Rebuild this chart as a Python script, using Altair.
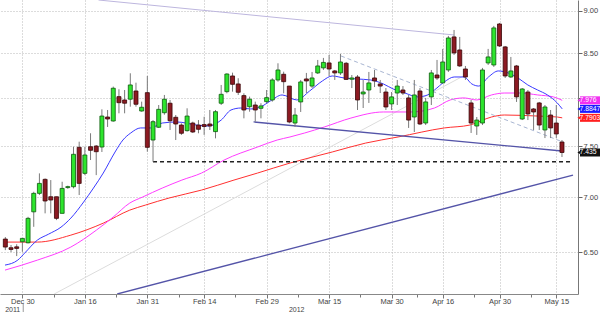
import altair as alt
import pandas as pd

# ---- candles (trading-day index, 0 = Dec 30 2011) ----
day_idx = list(range(-3, 96))
opens = [6.617, 6.540, 6.548, 6.593, 6.584, 6.864, 7.037, 7.171, 7.005, 7.005,
         6.850, 7.092, 7.100, 7.487, 7.229, 7.493, 7.500, 7.490, 7.799, 7.757,
         8.016, 7.980, 7.988, 8.077, 7.862, 8.059, 7.561, 7.692, 7.844, 7.945,
         7.796, 7.715, 7.657, 7.736, 7.715, 7.720, 7.726, 7.647, 7.945, 8.070,
         8.242, 8.154, 8.027, 7.908, 7.926, 7.891, 7.962, 7.980, 8.198, 8.261,
         8.131, 7.736, 7.959, 8.209, 8.131, 8.276, 8.332, 8.388, 8.298, 8.276,
         8.384, 8.206, 8.231, 8.045, 8.088, 8.220, 8.154, 8.066, 7.937, 8.055,
         8.088, 8.002, 7.799, 8.077, 7.736, 8.013, 8.253, 8.165, 8.309, 8.687,
         8.536, 8.320, 7.948, 7.705, 7.736, 8.388, 8.365, 8.840, 8.571, 8.231,
         8.354, 7.778, 8.066, 7.884, 7.948, 7.664, 7.820, 7.736, 7.541]
highs = [6.635, 6.564, 6.571, 6.625, 6.818, 7.052, 7.229, 7.180, 7.164, 7.005,
         7.148, 7.110, 7.493, 7.544, 7.493, 7.630, 7.510, 7.880, 7.873, 8.125,
         8.096, 8.088, 8.272, 8.168, 7.962, 8.242, 7.767, 7.926, 8.034, 7.980,
         7.820, 7.733, 7.891, 7.750, 7.767, 7.802, 7.873, 7.873, 8.143, 8.272,
         8.279, 8.217, 8.052, 8.016, 7.962, 7.945, 8.088, 8.217, 8.384, 8.290,
         8.131, 7.894, 8.198, 8.276, 8.287, 8.422, 8.445, 8.479, 8.309, 8.490,
         8.399, 8.253, 8.253, 8.198, 8.287, 8.309, 8.198, 8.109, 8.066, 8.198,
         8.131, 8.034, 8.198, 8.109, 8.002, 8.309, 8.422, 8.548, 8.699, 8.769,
         8.687, 8.354, 7.980, 7.799, 8.332, 8.548, 8.817, 8.852, 8.582, 8.456,
         8.365, 8.109, 8.088, 7.894, 7.959, 7.926, 7.873, 7.926, 7.561]
lows = [6.519, 6.502, 6.467, 6.504, 6.578, 6.727, 7.021, 6.850, 6.850, 6.788,
        6.850, 7.080, 7.084, 7.021, 7.212, 7.360, 7.212, 7.440, 7.695, 7.750,
        7.838, 7.838, 7.908, 7.908, 7.855, 7.443, 7.343, 7.685, 7.823, 7.664,
        7.561, 7.613, 7.647, 7.633, 7.630, 7.613, 7.664, 7.578, 7.926, 8.052,
        8.070, 8.034, 7.785, 7.855, 7.750, 7.785, 7.945, 7.962, 8.179, 8.052,
        7.733, 7.695, 7.852, 8.055, 8.109, 8.264, 8.309, 8.242, 8.198, 8.253,
        8.198, 8.109, 7.873, 7.894, 7.948, 8.120, 8.055, 7.873, 7.873, 7.926,
        8.034, 7.685, 7.643, 7.715, 7.715, 7.926, 8.198, 8.165, 8.287, 8.479,
        8.343, 8.198, 7.633, 7.613, 7.715, 8.365, 8.343, 8.571, 8.220, 8.220,
        7.959, 7.767, 7.767, 7.664, 7.664, 7.581, 7.581, 7.581, 7.390]
closes = [6.546, 6.525, 6.534, 6.623, 6.804, 7.037, 7.132, 6.965, 6.974, 6.804,
          7.084, 7.101, 7.417, 7.132, 7.410, 7.457, 7.443, 7.809, 7.778, 8.107,
          7.951, 7.945, 8.143, 7.934, 7.902, 7.487, 7.750, 7.880, 7.988, 7.760,
          7.726, 7.630, 7.809, 7.643, 7.671, 7.700, 7.705, 7.855, 8.041, 8.264,
          8.150, 8.063, 7.873, 7.988, 7.873, 7.916, 8.005, 8.198, 8.309, 8.179,
          7.747, 7.820, 8.176, 8.187, 8.220, 8.354, 8.394, 8.320, 8.276, 8.399,
          8.204, 8.220, 7.980, 8.066, 8.165, 8.187, 8.131, 7.905, 8.013, 8.131,
          8.055, 7.767, 8.034, 7.726, 7.959, 8.276, 8.220, 8.399, 8.675, 8.502,
          8.354, 8.231, 7.736, 7.767, 8.309, 8.456, 8.793, 8.582, 8.242, 8.298,
          8.013, 8.099, 7.831, 7.852, 7.715, 7.905, 7.685, 7.623, 7.435]

# ---- moving averages ----
blue_i = [-3.06, -0.81, 0.40, 2.65, 4.62, 6.80, 8.53, 10.78, 12.51, 14.24, 16.32, 17.70,
          19.08, 20.81, 22.54, 24.62, 27.21, 30.67, 32.75, 35.00, 36.73, 38.46, 40.19,
          41.92, 43.65, 45.73, 48.32, 50.57, 52.82, 54.55, 56.63, 58.88, 61.30, 63.55,
          65.28, 67.35, 69.60, 71.33, 72.55, 74.28, 76.02, 77.75, 79.13, 80.34, 82.06,
          83.79, 85.52, 87.25, 88.98, 90.71, 92.44, 94.17, 95.04]
blue_v = [6.389, 6.432, 6.493, 6.608, 6.661, 6.724, 6.806, 6.955, 7.087, 7.232, 7.440, 7.561,
          7.633, 7.685, 7.685, 7.736, 7.747, 7.715, 7.705, 7.767, 7.873, 7.894, 7.884,
          7.905, 7.969, 8.034, 7.980, 8.077, 8.187, 8.242, 8.220, 8.209, 8.198, 8.154,
          8.099, 8.055, 8.013, 8.034, 8.088, 8.176, 8.231, 8.231, 8.154, 8.131, 8.231,
          8.298, 8.276, 8.220, 8.143, 8.088, 8.034, 7.948, 7.8847]
pink_i = [-3.06, 2.65, 8.53, 13.03, 15.97, 18.91, 21.16, 24.62, 28.08, 31.54, 35.52, 41.40,
          44.86, 47.11, 49.71, 53.17, 57.84, 63.55, 68.39, 72.55, 75.32, 77.75, 79.99,
          82.59, 84.84, 87.78, 90.72, 93.49, 95.04]
pink_v = [6.346, 6.432, 6.546, 6.697, 6.815, 6.946, 7.002, 7.087, 7.164, 7.232, 7.360, 7.490,
          7.561, 7.592, 7.633, 7.695, 7.788, 7.852, 7.852, 7.894, 7.980, 8.002, 7.980,
          8.034, 8.055, 8.055, 8.034, 8.013, 7.976]
red_i = [-3.06, 2.65, 8.53, 14.24, 18.91, 21.68, 25.83, 31.54, 37.25, 41.40, 47.11, 54.55,
         60.43, 66.14, 74.28, 78.78, 82.59, 84.84, 90.72, 94.17, 95.04]
red_v = [6.590, 6.590, 6.652, 6.760, 6.880, 6.927, 6.993, 7.068, 7.164, 7.232, 7.330, 7.440,
         7.530, 7.592, 7.685, 7.715, 7.799, 7.820, 7.809, 7.799, 7.7903]

# ---- drawn trend lines (two end points each) ----
lav_i, lav_v = [13.4, 76.0], [9.13, 8.71]
sup_i, sup_v = [40.7, 95.0], [7.747, 7.45]
rise_i, rise_v = [16.7, 96.94], [6.145, 7.2125]
flat_i, flat_v = [23.0, 96.94], [7.343, 7.343]
dsh_i, dsh_v = [56.1, 95.2], [8.467, 7.54]
gry_i, gry_v = [5.6, 78.3], [6.145, 8.264]

# ---- axis labels ----
tick_pos = [0, 11, 22, 32, 43, 54, 65, 74, 84, 94]
tick_lbl = ["Dec 30", "Jan 16", "Jan 31", "Feb 14", "Feb 29", "Mar 15",
            "Mar 30", "Apr 16", "Apr 30", "May 15"]
y_ticks = [6.5, 7.0, 7.5, 8.0, 8.5, 9.0]
years = ["2011", "2012"]
year_pos = [-1.7, 48.3]

tag_vals = [7.976, 7.8847, 7.7903, 7.435]
tag_txt = ["7.976", "7.8847", "7.7903", "7.435"]
tag_cols = ["#f030f0", "#1a1aff", "#ff2020", "#111111"]

# ---------------------------------------------------------------
candles = pd.DataFrame({"i": day_idx, "o": opens, "h": highs, "l": lows, "c": closes})
candles["dir"] = ["up" if c >= o else "down" for o, c in zip(opens, closes)]

minor = [(a + b) / 2 for a, b in zip(tick_pos[:-1], tick_pos[1:])]
minor = [m + 0.5 if m % 1 == 0 else m for m in minor]
all_ticks = sorted(tick_pos + minor)
expr = "''"
for p, l in reversed(list(zip(tick_pos, tick_lbl))):
    expr = f"datum.value == {p} ? '{l}' : ({expr})"

FONT = "Liberation Sans"
XS = alt.Scale(domain=[-3.06, 96.94], nice=False, zero=False)
YS = alt.Scale(type="log", domain=[6.145, 9.13], nice=False)

x_axis = alt.Axis(values=all_ticks, labelExpr=expr, title=None, grid=True,
                  gridDash=[1, 2], gridColor="#b8b8b8",
                  gridOpacity={"condition": {"test": "datum.value % 1 != 0", "value": 0}, "value": 1},
                  tickSize={"condition": {"test": "datum.value % 1 != 0", "value": 3}, "value": 4},
                  tickColor="#777", domainColor="#888", labelColor="#444",
                  labelFontSize=7.5, labelFont=FONT, labelPadding=-1, labelFlush=False)
y_axis = alt.Axis(values=y_ticks, orient="right", title=None, grid=True,
                  labelExpr="datum.value == 8 ? '' : format(datum.value, '.2f')",
                  gridDash=[1, 2], gridColor="#b8b8b8", tickSize=4, tickColor="#666",
                  domainColor="#777", labelColor="#444", labelFontSize=7.5, labelFont=FONT,
                  labelPadding=1)

XE = alt.X("i:Q", scale=XS, axis=x_axis)


def seg(xs, ys, **kw):
    df = pd.DataFrame({"i": xs, "h": ys})
    return alt.Chart(df).mark_line(clip=True, **kw).encode(
        x=XE, y=alt.Y("h:Q", scale=YS, axis=y_axis))


gray_line = seg(gry_i, gry_v, color="#dcdcdc", strokeWidth=1)
lav_line = seg(lav_i, lav_v, color="#bdb6de", strokeWidth=1)
red_ma = seg(red_i, red_v, color="#ff3030", strokeWidth=1, interpolate="monotone")
pink_ma = seg(pink_i, pink_v, color="#ff3cff", strokeWidth=1, interpolate="monotone")
blue_ma = seg(blue_i, blue_v, color="#3a3aff", strokeWidth=1, interpolate="monotone")
sup_line = seg(sup_i, sup_v, color="#5454a8", strokeWidth=1.3)
rise_line = seg(rise_i, rise_v, color="#5454a8", strokeWidth=1.3)
dash_line = seg(dsh_i, dsh_v, color="#a9b6d2", strokeWidth=1, strokeDash=[4, 3])
flat_line = seg(flat_i, flat_v, color="#222222", strokeWidth=1.4, strokeDash=[4, 3])

wicks = alt.Chart(candles).mark_rule(color="#7a7a7a", strokeWidth=1).encode(
    x=XE, y=alt.Y("h:Q", scale=YS, axis=y_axis), y2="l:Q")

bodies = alt.Chart(candles).mark_bar(size=4, strokeWidth=0.8).encode(
    x=XE,
    y=alt.Y("o:Q", scale=YS, axis=y_axis), y2="c:Q",
    fill=alt.Fill("dir:N", scale=alt.Scale(domain=["up", "down"], range=["#2de52d", "#8c1a22"]), legend=None),
    stroke=alt.Stroke("dir:N", scale=alt.Scale(domain=["up", "down"], range=["#0d5a0d", "#3a0608"]), legend=None))

tags = pd.DataFrame({"h": tag_vals, "t": tag_txt, "col": tag_cols})
tag_color = alt.Color("t:N", scale=alt.Scale(domain=tag_txt, range=tag_cols), legend=None)
tag_box = alt.Chart(tags).mark_tick(orient="horizontal", size=20, thickness=8, opacity=1).encode(
    x=alt.value(590), y=alt.Y("h:Q", scale=YS, axis=y_axis), color=tag_color)
tag_arrow = alt.Chart(tags).mark_point(shape="triangle-left", filled=True, size=24, opacity=1).encode(
    x=alt.value(579.5), y=alt.Y("h:Q", scale=YS, axis=y_axis), color=tag_color)
tag_text = alt.Chart(tags).mark_text(align="left", baseline="middle", fontSize=6.8, font=FONT,
                                     color="white").encode(
    x=alt.value(579.5), y=alt.Y("h:Q", scale=YS, axis=y_axis), text="t:N")

yr = pd.DataFrame({"i": year_pos, "t": years})
year_text = alt.Chart(yr).mark_text(fontSize=7, font=FONT, color="#444", baseline="middle").encode(
    x=XE, y=alt.value(309.5), text="t:N")
sep = alt.Chart(pd.DataFrame({"i": [0.15]})).mark_rule(color="#999").encode(
    x=XE, y=alt.value(304), y2=alt.value(312))

chart = alt.layer(
    gray_line, lav_line, red_ma, pink_ma, blue_ma, sup_line, rise_line,
    dash_line, flat_line, wicks, bodies, tag_box, tag_arrow, tag_text, year_text, sep
).resolve_scale(color="independent", fill="independent", stroke="independent").properties(
    width=578, height=294, autosize="none",
    padding={"left": 0, "top": 0, "right": 22, "bottom": 18},
    background="white"
).configure_view(stroke=None)

chart.save("out.html", embed_options={"renderer": "svg", "actions": False})
